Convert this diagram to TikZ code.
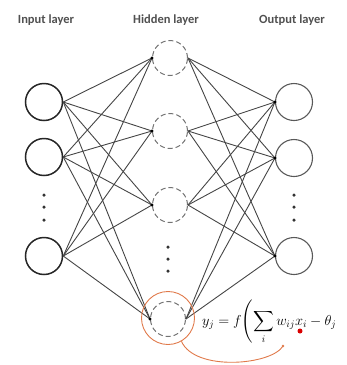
\documentclass[tikz,border=0pt]{standalone}
\usepackage{fontspec}
\setmainfont{Carlito}
\usepackage{amsmath}
\definecolor{txt}{HTML}{505050}
\definecolor{edge}{HTML}{454545}
\definecolor{orng}{HTML}{E0794A}
\begin{document}
\begin{tikzpicture}[x=1pt,y=-1pt,
  inp/.style={circle,draw=black!85,line width=1.5pt,minimum size=37pt,inner sep=0pt},
  hid/.style={circle,draw=black!55,dashed,dash pattern=on 5pt off 3pt,line width=1pt,minimum size=35pt,inner sep=0pt},
  outn/.style={circle,draw=black!65,line width=1.1pt,minimum size=37pt,inner sep=0pt},
  conn/.style={draw=edge,line width=0.9pt},
  ttl/.style={font=\fontsize{12.5}{15}\selectfont\bfseries,text=txt},
  vdot/.style={circle,fill=black!80,inner sep=0pt,minimum size=3.5pt},
  tip/.style={circle,fill=black,inner sep=0pt,minimum size=3.2pt}]
\useasboundingbox (0,0) rectangle (347,365);
% titles
\node[ttl] (t1) at (46,20) {Input layer};
\node[ttl] (t2) at (166,20) {Hidden layer};
\node[ttl] (t3) at (292,20) {Output layer};
% input nodes
\node[inp] (i1) at (44,102) {};
\node[inp] (i2) at (44,157) {};
\node[inp] (i3) at (44,256) {};
% hidden nodes
\node[hid] (h1) at (170,58) {};
\node[hid] (h2) at (170,131) {};
\node[hid] (h3) at (170,205) {};
\node[hid] (h4) at (168,319) {};
% output nodes
\node[outn] (o1) at (294,102) {};
\node[outn] (o2) at (294,158) {};
\node[outn] (o3) at (294,256) {};
% ellipsis dots
\foreach \y [count=\k] in {195,207,220} {\node[vdot] (di\k) at (44,\y) {};}
\foreach \y [count=\k] in {247,259,271} {\node[vdot] (dh\k) at (168,\y) {};}
\foreach \y [count=\k] in {195,207,220} {\node[vdot] (do\k) at (294,\y) {};}
% connections input -> hidden
\foreach \a in {i1,i2,i3} \foreach \b in {h1,h2,h3,h4} {\draw[conn] (\a.east) -- (\b.west);}
\foreach \b in {h1,h2,h3,h4} {\node[tip] at (\b.west) {};}
% connections hidden -> output
\foreach \a in {h1,h2,h3,h4} \foreach \b in {o1,o2,o3} {\draw[conn] (\a.east) -- (\b.west);}
\foreach \b in {o1,o2,o3} {\node[tip] at (\b.west) {};}
% highlight
\node[circle,draw=orng,line width=0.9pt,minimum size=53pt,inner sep=0pt] (hl) at (168,318) {};
\node[anchor=west,inner sep=0pt] (eq) at (202,322) {\fontsize{14.5}{17}\selectfont$y_j = f\Biggl(\displaystyle\sum_i w_{ij}x_i - \theta_j$};
\node[circle,fill=red!85!black,inner sep=0pt,minimum size=5pt] (rd) at (300,331) {};
\coordinate (ce) at (283,346);
\draw[orng,line width=0.9pt] (hl.-60) .. controls (195,372) and (272,365) .. (ce);
\fill[orng] (ce) circle (1.3pt);
\end{tikzpicture}
\end{document}
